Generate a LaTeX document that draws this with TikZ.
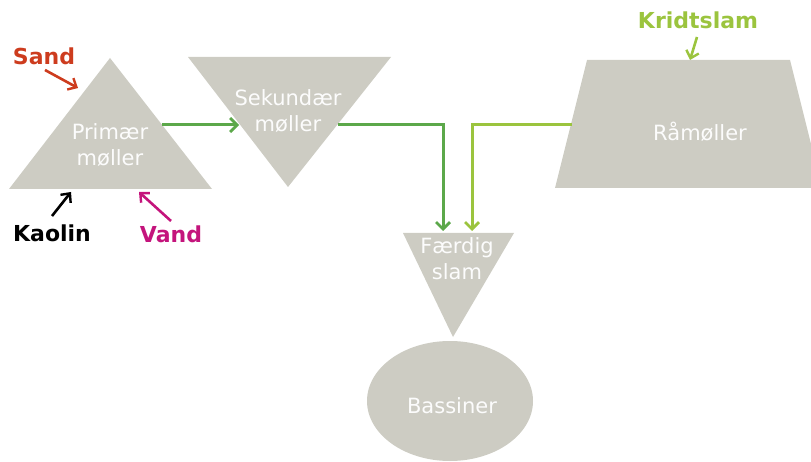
\documentclass[tikz,border=0pt]{standalone}
\usepackage{fontspec}
\setmainfont{DejaVu Sans}
\usetikzlibrary{arrows.meta}
\definecolor{shapegray}{RGB}{205,204,195}
\definecolor{flowgreen}{RGB}{92,168,74}
\definecolor{limegreen}{RGB}{155,196,62}
\definecolor{sandred}{RGB}{205,60,30}
\definecolor{vandmag}{RGB}{196,20,124}
\begin{document}
\begin{tikzpicture}[x=1pt,y=-1pt,
  millshape/.style={fill=shapegray,draw=none},
  shapetext/.style={text=white!95!shapegray,align=center,font=\fontsize{21}{26}\selectfont},
  feedlabel/.style={font=\bfseries\fontsize{22}{26}\selectfont},
  feedarrow/.style={line width=2.6pt,-{Straight Barb[length=7pt,width=13pt,line width=2.4pt]}},
  flow/.style={line width=3pt,-{Straight Barb[length=7pt,width=14pt,line width=2.8pt]}}]
\useasboundingbox (0,0) rectangle (811,462);
\clip (0,0) rectangle (811,462);

% mills and tanks
\fill[millshape] (110,58) -- (212,189) -- (9,189) -- cycle;
\fill[millshape] (188,57) -- (391,57) -- (288,187) -- cycle;
\fill[millshape] (403,233) -- (514,233) -- (453,337) -- cycle;
\fill[millshape] (587,60) -- (790,60) -- (822,188) -- (555,188) -- cycle;
\fill[millshape] (450,401) ellipse [x radius=83pt, y radius=60pt];

\node[shapetext] (prim) at (110,145) {Primær\\møller};
\node[shapetext] (sek) at (288,111) {Sekundær\\møller};
\node[shapetext] (faerdig) at (457,259) {Færdig\\slam};
\node[shapetext] (raa) at (700,132) {Råmøller};
\node[shapetext] (bass) at (452,406) {Bassiner};

% connection points on the shape outlines
\coordinate (primout) at (162,125);
\coordinate (sekin) at (239,125);
\coordinate (sekout) at (338,125);
\coordinate (raaout) at (572,125);
\coordinate (faerdigA) at (443,231);
\coordinate (faerdigB) at (472,231);
\coordinate (sandtip) at (78,88);
\coordinate (kaolintip) at (71,192);
\coordinate (vandtip) at (139,192);
\coordinate (kridttip) at (690,60);

% process flow
\draw[flow,flowgreen] (primout) -- (sekin);
\draw[flow,flowgreen] (sekout) -| (faerdigA);
\draw[flow,limegreen] (raaout) -| (faerdigB);

% raw material feeds
\node[feedlabel,text=sandred] (sand) at (44,56) {Sand};
\node[feedlabel,text=black] (kaolin) at (52,233) {Kaolin};
\node[feedlabel,text=vandmag] (vand) at (171,234) {Vand};
\node[feedlabel,text=limegreen] (kridt) at (698,20) {Kridtslam};

\draw[feedarrow,sandred] (45,70) -- (sandtip);
\draw[feedarrow,black] (52,216) -- (kaolintip);
\draw[feedarrow,vandmag] (171,221) -- (vandtip);
\draw[feedarrow,limegreen] (697,37) -- (kridttip);
\end{tikzpicture}
\end{document}
